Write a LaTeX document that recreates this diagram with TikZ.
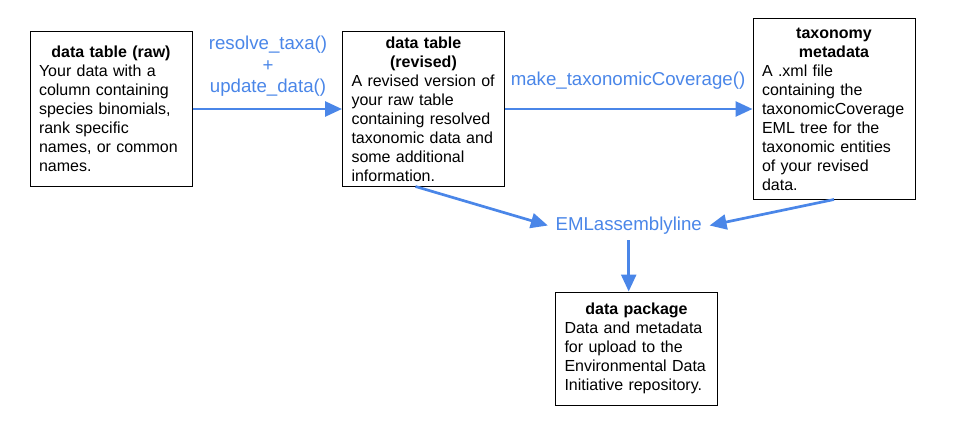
\documentclass[tikz,border=0pt]{standalone}
\usepackage{fontspec}
\setmainfont{Liberation Sans}
\usetikzlibrary{arrows.meta}
\definecolor{gblue}{HTML}{4A86E8}
\hyphenpenalty=10000
\exhyphenpenalty=10000
\begin{document}
\begin{tikzpicture}[x=1pt,y=-1pt,
  box/.style={draw=black, line width=1pt, text width=144pt, inner xsep=9pt, inner ysep=0pt,
    align=left, font=\fontsize{16}{19}\selectfont, minimum width=162pt},
  lbl/.style={text=gblue, font=\fontsize{18.67}{21.5}\selectfont, align=center, inner sep=0pt},
  arr/.style={draw=gblue, line width=2.7pt, -{Triangle[length=17pt,width=15pt]}}]
\useasboundingbox (0,0) rectangle (960,420);

\node[box, minimum height=155pt] (raw) at (111,109)
  {{\centering\bfseries data table (raw)\par}Your data with a\\column containing\\species binomials,\\rank specific\\names, or common\\names.};

\node[box, minimum height=154pt] (rev) at (423.5,109)
  {{\centering\bfseries data table\\(revised)\par}A revised version of\\your raw table\\containing resolved\\taxonomic data and\\some additional\\information.};

\node[box, minimum height=180pt] (tax) at (834,109)
  {{\centering\bfseries taxonomy\\metadata\par}A .xml file\\containing the\\taxonomicCoverage\\EML tree for the\\taxonomic entities\\of your revised\\data.};

\node[box, minimum height=113pt, minimum width=161pt] (pkg) at (636.5,348.5)
  {{\centering\bfseries data package\par}Data and metadata\\for upload to the\\Environmental Data\\Initiative repository.};

\node[lbl, inner xsep=7.5pt, inner ysep=6pt] (eml) at (628.7,225.5) {EMLassemblyline};

\node[lbl] (l1) at (268,66.5) {resolve\_taxa()\\+\\update\_data()};
\node[lbl] (l2) at (628,81) {make\_taxonomicCoverage()};

\draw[arr] (raw) -- (rev);
\draw[arr] (rev) -- (tax);
\draw[arr] ([xshift=-8pt]rev.south) -- (eml.west);
\draw[arr] (tax.south) -- (eml.east);
\draw[arr] (eml.south) -- (eml.south |- pkg.north);
\end{tikzpicture}
\end{document}
